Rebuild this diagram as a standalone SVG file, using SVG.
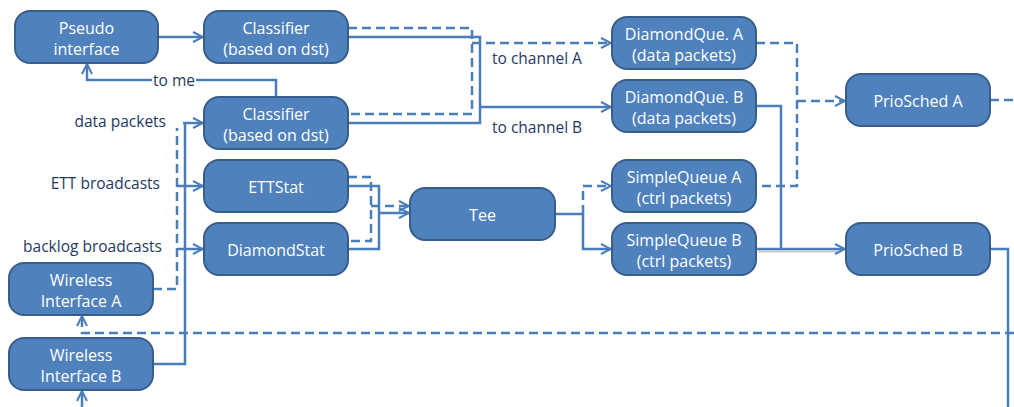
<svg xmlns="http://www.w3.org/2000/svg" width="1014" height="407" viewBox="0 0 1014 407">
  <style>
    .box { fill: #4f81bd; stroke: #385d8a; stroke-width: 2; }
    .bt { fill: #ffffff; font-family: "Open Sans", "Noto Sans", sans-serif; font-size: 16px; text-anchor: middle; }
    .lbl { fill: #1f3864; font-family: "Open Sans", "Noto Sans", sans-serif; font-size: 15.5px; }
    .ln { fill: none; stroke: #4a7ebb; stroke-width: 2.5; }
    .dash { stroke-dasharray: 9 5; }
  </style>
  <defs>
    <marker id="arr" viewBox="0 0 12 12" refX="11" refY="6" markerWidth="12" markerHeight="12" markerUnits="userSpaceOnUse" orient="auto">
      <path d="M1,1 L11,6 L1,11" fill="none" stroke="#4a7ebb" stroke-width="2"/>
    </marker>
  </defs>
  <rect width="1014" height="407" fill="#ffffff"/>

  <!-- connectors -->
  <g id="connectors">
    <!-- pseudo interface to classifier -->
    <path class="ln" d="M158,37 H203" marker-end="url(#arr)"/>
    <!-- to me -->
    <path class="ln" d="M276,97 V80 H196 M152,80 H87 V64" marker-end="url(#arr)"/>
    <!-- classifier outputs -->
    <path class="ln dash" d="M348,28 H472 V114 H348"/>
    <path class="ln dash" d="M472,43 H611" marker-end="url(#arr)"/>
    <path class="ln" d="M348,37 H480 V123 H348"/>
    <path class="ln" d="M480,107 H611" marker-end="url(#arr)"/>
    <!-- wireless interfaces to left bus -->
    <path class="ln dash" d="M153,289 H177 V128"/>
    <path class="ln" d="M153,364 H185 V123"/>
    <path class="ln" d="M183,123 H203" marker-end="url(#arr)"/>
    <path class="ln" d="M185,186 H203" marker-end="url(#arr)"/>
    <path class="ln" d="M185,249 H203" marker-end="url(#arr)"/>
    <path class="ln" d="M177,186 H185 M177,249 H185"/>
    <!-- stats to tee -->
    <path class="ln dash" d="M348,177 H371 V241 H348"/>
    <path class="ln dash" d="M371,206 H409" marker-end="url(#arr)"/>
    <path class="ln" d="M348,186 H379 V249 H348"/>
    <path class="ln" d="M379,213 H409" marker-end="url(#arr)"/>
    <!-- tee to simple queues -->
    <path class="ln" d="M555,214 H583 V249 H611" marker-end="url(#arr)"/>
    <path class="ln dash" d="M583,214 V186 H611" marker-end="url(#arr)"/>
    <!-- queues to schedulers -->
    <path class="ln dash" d="M756,43 H797 V186 H756"/>
    <path class="ln dash" d="M797,101 H845" marker-end="url(#arr)"/>
    <path d="M758,251.5 H842" fill="none" stroke="#a6a6a6" stroke-width="2" opacity="0.6"/>
    <path class="ln" d="M756,106 H781 V249 H756"/>
    <path class="ln" d="M781,249 H845" marker-end="url(#arr)"/>
    <!-- scheduler outputs -->
    <path class="ln dash" d="M990,100 H1014"/>
    <path class="ln" d="M990,249 H1008 V407"/>
    <!-- inputs to wireless interfaces -->
    <path class="ln dash" d="M1014,333 H82 V316" marker-end="url(#arr)"/>
    <path class="ln" d="M82,407 V391" marker-end="url(#arr)"/>
    <!-- labels -->
    <text class="lbl" x="174" y="86" text-anchor="middle">to me</text>
    <text class="lbl" x="166" y="127" text-anchor="end">data packets</text>
    <text class="lbl" x="160" y="189" text-anchor="end">ETT broadcasts</text>
    <text class="lbl" x="162" y="252" text-anchor="end">backlog broadcasts</text>
    <text class="lbl" x="492" y="64">to channel A</text>
    <text class="lbl" x="492" y="133">to channel B</text>
  </g>

  <!-- nodes -->
  <g id="pseudo">
    <rect class="box" x="15" y="11" width="143" height="52" rx="15"/>
    <text class="bt" x="86.5" y="34">Pseudo</text>
    <text class="bt" x="86.5" y="55">interface</text>
  </g>
  <g id="classifier1">
    <rect class="box" x="204" y="11" width="144" height="52" rx="15"/>
    <text class="bt" x="276" y="34">Classifier</text>
    <text class="bt" x="276" y="55">(based on dst)</text>
  </g>
  <g id="classifier2">
    <rect class="box" x="204" y="97" width="144" height="52" rx="15"/>
    <text class="bt" x="276" y="120">Classifier</text>
    <text class="bt" x="276" y="141">(based on dst)</text>
  </g>
  <g id="ettstat">
    <rect class="box" x="204" y="160" width="144" height="52" rx="15"/>
    <text class="bt" x="276" y="193">ETTStat</text>
  </g>
  <g id="diamondstat">
    <rect class="box" x="204" y="223" width="144" height="52" rx="15"/>
    <text class="bt" x="276" y="256">DiamondStat</text>
  </g>
  <g id="wirelessA">
    <rect class="box" x="9" y="263" width="144" height="52" rx="15"/>
    <text class="bt" x="81" y="286">Wireless</text>
    <text class="bt" x="81" y="307">Interface A</text>
  </g>
  <g id="wirelessB">
    <rect class="box" x="9" y="338" width="144" height="52" rx="15"/>
    <text class="bt" x="81" y="361">Wireless</text>
    <text class="bt" x="81" y="382">Interface B</text>
  </g>
  <g id="tee">
    <rect class="box" x="410" y="188" width="145" height="52" rx="15"/>
    <text class="bt" x="482.5" y="221">Tee</text>
  </g>
  <g id="diamondqueA">
    <rect class="box" x="612" y="17" width="144" height="52" rx="15"/>
    <text class="bt" x="684" y="40">DiamondQue. A</text>
    <text class="bt" x="684" y="61">(data packets)</text>
  </g>
  <g id="diamondqueB">
    <rect class="box" x="612" y="80" width="144" height="52" rx="15"/>
    <text class="bt" x="684" y="103">DiamondQue. B</text>
    <text class="bt" x="684" y="124">(data packets)</text>
  </g>
  <g id="simplequeueA">
    <rect class="box" x="612" y="160" width="144" height="52" rx="15"/>
    <text class="bt" x="684" y="183">SimpleQueue A</text>
    <text class="bt" x="684" y="204">(ctrl packets)</text>
  </g>
  <g id="simplequeueB">
    <rect class="box" x="612" y="223" width="144" height="52" rx="15"/>
    <text class="bt" x="684" y="246">SimpleQueue B</text>
    <text class="bt" x="684" y="267">(ctrl packets)</text>
  </g>
  <g id="prioschedA">
    <rect class="box" x="846" y="74" width="144" height="52" rx="15"/>
    <text class="bt" x="918" y="107">PrioSched A</text>
  </g>
  <g id="prioschedB">
    <rect class="box" x="846" y="223" width="144" height="52" rx="15"/>
    <text class="bt" x="918" y="256">PrioSched B</text>
  </g>
</svg>
